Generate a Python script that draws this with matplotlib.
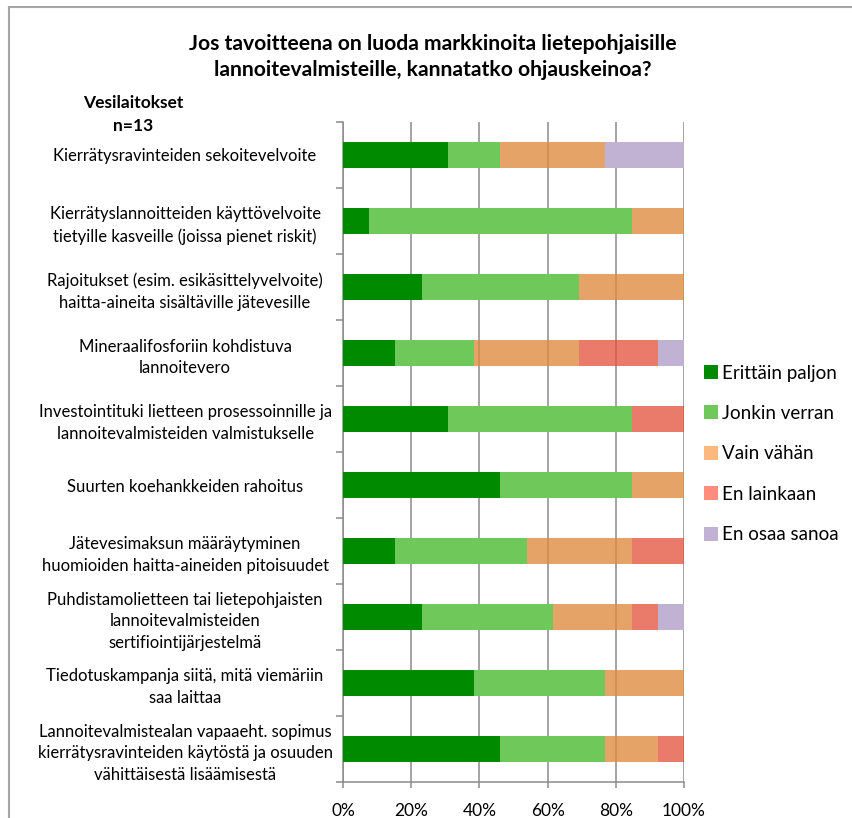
import numpy as np
import matplotlib.pyplot as plt
from matplotlib.lines import Line2D

plt.rcParams['font.family'] = ['Lato', 'DejaVu Sans']

categories = [
    'Kierrätysravinteiden sekoitevelvoite',
    'Kierrätyslannoitteiden käyttövelvoite\ntietyille kasveille (joissa pienet riskit)',
    'Rajoitukset (esim. esikäsittelyvelvoite)\nhaitta-aineita sisältäville jätevesille',
    'Mineraalifosforiin kohdistuva\nlannoitevero',
    'Investointituki lietteen prosessoinnille ja\nlannoitevalmisteiden valmistukselle',
    'Suurten koehankkeiden rahoitus',
    'Jätevesimaksun määräytyminen\nhuomioiden haitta-aineiden pitoisuudet',
    'Puhdistamolietteen tai lietepohjaisten\nlannoitevalmisteiden\nsertifiointijärjestelmä',
    'Tiedotuskampanja siitä, mitä viemäriin\nsaa laittaa',
    'Lannoitevalmistealan vapaaeht. sopimus\nkierrätysravinteiden käytöstä ja osuuden\nvähittäisestä lisäämisestä',
]
series = ['Erittäin paljon', 'Jonkin verran', 'Vain vähän', 'En lainkaan', 'En osaa sanoa']
# answer counts, n=13
erittain = [4, 1, 3, 2, 4, 6, 2, 3, 5, 6]
jonkin = [2, 10, 6, 3, 7, 5, 5, 5, 5, 4]
vain = [4, 2, 4, 4, 0, 2, 4, 3, 3, 2]
ei = [0, 0, 0, 3, 2, 0, 2, 1, 0, 1]
eos = [3, 0, 0, 1, 0, 0, 0, 1, 0, 0]
n = 13

bar_colors = ['#008a00', '#6ec85a', '#e08a3c', '#e5553f', '#c1b1d3']
bar_alpha = [1.0, 1.0, 0.78, 0.78, 1.0]
legend_colors = ['#008a00', '#6ec85a', '#fdb97d', '#ff8d7d', '#c1b1d3']

fig = plt.figure(figsize=(8.53, 8.18), dpi=100)
ax = fig.add_axes([343 / 853, 1 - 782 / 818, 341 / 853, 660 / 818])

data = np.array([erittain, jonkin, vain, ei, eos], dtype=float) / n * 100
y = np.arange(len(categories))
left = np.zeros(len(categories))
for i in range(len(series)):
    ax.barh(y, data[i], left=left, height=0.39, color=bar_colors[i],
            alpha=bar_alpha[i], zorder=3, linewidth=0)
    left += data[i]

ax.set_xlim(0, 100)
ax.set_ylim(len(categories) - 0.5, -0.5)
ax.set_xticks(np.arange(0, 101, 20))
ax.set_xticklabels([f'{v}%' for v in range(0, 101, 20)], fontsize=12.5)
ax.xaxis.grid(True, color='#8c8c8c', linewidth=1.1, zorder=1)
ax.set_yticks(y)
ax.set_yticklabels(categories, fontsize=12, linespacing=1.45)
ax.set_yticks(np.arange(-0.5, len(categories)), minor=True)
ax.tick_params(axis='y', which='major', length=0, pad=0)
ax.tick_params(axis='y', which='minor', length=5, color='#8c8c8c', width=1.1)
ax.tick_params(axis='x', length=4, color='#8c8c8c', width=1.1, pad=11)
for s in ['top', 'right']:
    ax.spines[s].set_visible(False)
for s in ['left', 'bottom']:
    ax.spines[s].set_color('#8c8c8c')
    ax.spines[s].set_linewidth(1.1)
for lab in ax.get_yticklabels():
    lab.set_horizontalalignment('center')
    lab.set_x(-0.463)

fig.text(433 / 853, 1 - 44 / 818, 'Jos tavoitteena on luoda markkinoita lietepohjaisille',
         ha='center', va='center', fontsize=15.2, fontweight='bold')
fig.text(433 / 853, 1 - 70 / 818, 'lannoitevalmisteille, kannatatko ohjauskeinoa?',
         ha='center', va='center', fontsize=15.2, fontweight='bold')
fig.text(133 / 853, 1 - 103 / 818, 'Vesilaitokset', ha='center', va='center',
         fontsize=12.5, fontweight='bold')
fig.text(133 / 853, 1 - 126 / 818, 'n=13', ha='center', va='center',
         fontsize=12.5, fontweight='bold')

handles = [Line2D([], [], marker='s', linestyle='', markersize=9.5,
                  markerfacecolor=c, markeredgewidth=0) for c in legend_colors]
fig.legend(handles, series, loc='center left', bbox_to_anchor=(685 / 853, 1 - 454 / 818),
           frameon=False, fontsize=13.5, labelspacing=1.25, handletextpad=0.1,
           handlelength=1.0)

# outer chart border
fig.add_artist(Line2D([9 / 853, 9 / 853], [0, 1 - 7 / 818], color='#a6a6a6',
                      linewidth=1.5, transform=fig.transFigure))
fig.add_artist(Line2D([9 / 853, 1], [1 - 7 / 818, 1 - 7 / 818], color='#a6a6a6',
                      linewidth=1.5, transform=fig.transFigure))

fig.savefig('out.png', dpi=100)
